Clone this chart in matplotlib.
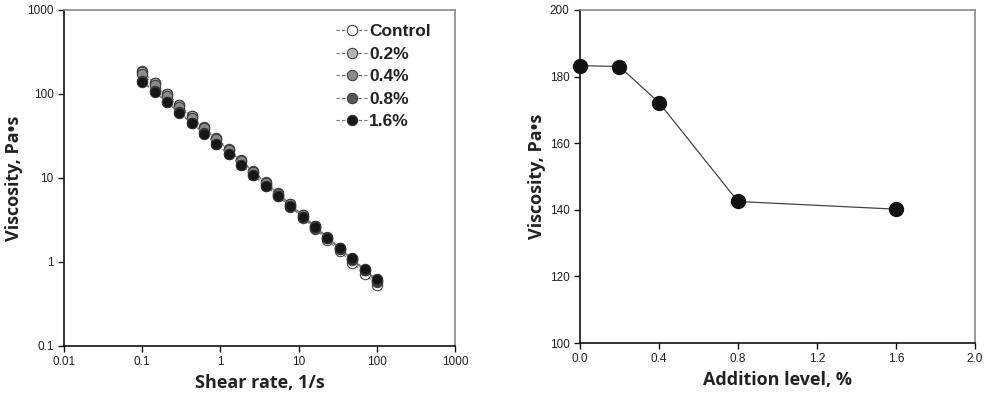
import matplotlib
matplotlib.use("Agg")
import matplotlib.pyplot as plt
from matplotlib.ticker import FixedLocator, FixedFormatter

SHEAR_RATE = [0.1, 0.1438, 0.2069, 0.2976, 0.4281, 0.6158, 0.8859, 1.274, 1.833, 2.637,
              3.793, 5.456, 7.848, 11.29, 16.24, 23.36, 33.60, 48.33, 69.52, 100]

SERIES = ["Control", "0.2%", "0.4%", "0.8%", "1.6%"]
VISC = {
    "Control": [185, 136, 99.8, 73.4, 54.0, 39.6, 29.1, 21.4, 15.7, 11.6,
                8.49, 6.24, 4.58, 3.37, 2.48, 1.82, 1.34, 0.98, 0.72, 0.53],
    "0.2%": [183, 135, 99.8, 73.8, 54.5, 40.3, 29.7, 22.0, 16.2, 12.0,
             8.85, 6.55, 4.83, 3.57, 2.64, 1.95, 1.44, 1.06, 0.79, 0.58],
    "0.4%": [172, 128, 94.8, 70.5, 52.2, 38.8, 28.8, 21.4, 15.9, 11.8,
             8.75, 6.50, 4.83, 3.58, 2.66, 1.98, 1.47, 1.09, 0.81, 0.60],
    "0.8%": [142.5, 107, 80.3, 60.3, 45.2, 34.0, 25.5, 19.1, 14.4, 10.8,
             8.07, 6.07, 4.55, 3.41, 2.56, 1.92, 1.44, 1.08, 0.81, 0.61],
    "1.6%": [140, 105, 79.1, 59.4, 44.8, 33.6, 25.3, 19.0, 14.3, 10.7,
             8.07, 6.08, 4.57, 3.44, 2.58, 1.94, 1.46, 1.10, 0.82, 0.62],
}
FACE = {"Control": "white", "0.2%": "#b4b4b4", "0.4%": "#8a8a8a",
        "0.8%": "#555555", "1.6%": "#161616"}

ADDITION = [0.0, 0.2, 0.4, 0.8, 1.6]
VISC_AT_01 = [183.3, 183.0, 172.2, 142.5, 140.2]

LOG_TICKS = [0.01, 0.1, 1, 10, 100, 1000]
LOG_LABELS = ["0.01", "0.1", "1", "10", "100", "1000"]
LOGY_TICKS = [0.1, 1, 10, 100, 1000]
LOGY_LABELS = ["0.1", "1", "10", "100", "1000"]

TICK_FONT = {"family": "Liberation Sans", "size": 8.5, "color": "#222222"}
LABEL_FONT = {"family": ["Open Sans", "DejaVu Sans"], "size": 13, "weight": "bold",
              "color": "#222222"}


def style_axes(ax):
    for side in ("left", "bottom"):
        ax.spines[side].set_color("#111111")
        ax.spines[side].set_linewidth(1.2)
    for side in ("top", "right"):
        ax.spines[side].set_color("#888888")
        ax.spines[side].set_linewidth(1.2)
    ax.tick_params(which="major", direction="out", length=4, width=1, color="#111111",
                   top=False, right=False)
    ax.tick_params(which="minor", length=0)
    for lbl in ax.get_xticklabels() + ax.get_yticklabels():
        lbl.set_fontfamily(TICK_FONT["family"])
        lbl.set_fontsize(TICK_FONT["size"])
        lbl.set_color(TICK_FONT["color"])


fig = plt.figure(figsize=(9.96, 3.98), dpi=100)
ax1 = fig.add_axes([0.0643, 0.131, 0.3926, 0.844])
ax2 = fig.add_axes([0.5823, 0.138, 0.3966, 0.837])

# left: flow curves
for name in SERIES:
    ax1.plot(SHEAR_RATE, VISC[name], linestyle=(0, (3, 2)), color="#777777", linewidth=0.8,
             marker="o", markersize=7.5, markerfacecolor=FACE[name],
             markeredgecolor="#333333", markeredgewidth=0.7, label=name)
ax1.set_xscale("log")
ax1.set_yscale("log")
ax1.set_xlim(0.01, 1000)
ax1.set_ylim(0.1, 1000)
ax1.xaxis.set_major_locator(FixedLocator(LOG_TICKS))
ax1.xaxis.set_major_formatter(FixedFormatter(LOG_LABELS))
ax1.yaxis.set_major_locator(FixedLocator(LOGY_TICKS))
ax1.yaxis.set_major_formatter(FixedFormatter(LOGY_LABELS))
ax1.xaxis.set_minor_locator(FixedLocator([]))
ax1.yaxis.set_minor_locator(FixedLocator([]))
ax1.set_xlabel("Shear rate, 1/s", fontdict=LABEL_FONT, labelpad=4)
ax1.set_ylabel("Viscosity, Pa•s", fontdict=LABEL_FONT, labelpad=3)
style_axes(ax1)
leg = ax1.legend(loc="upper right", bbox_to_anchor=(0.955, 0.978), frameon=False,
                 handlelength=1.8, handletextpad=0.1, labelspacing=0.42, borderaxespad=0,
                 prop={"family": "Liberation Sans", "weight": "bold", "size": 12.5})
for t in leg.get_texts():
    t.set_color("#222222")

# right: viscosity at 0.1 1/s vs addition level
ax2.plot(ADDITION, VISC_AT_01, color="#444444", linewidth=0.9, marker="o", markersize=10,
         markerfacecolor="#111111", markeredgecolor="#111111", clip_on=False, zorder=3)
ax2.set_xlim(0, 2.0)
ax2.set_ylim(100, 200)
ax2.set_xticks([0.0, 0.4, 0.8, 1.2, 1.6, 2.0])
ax2.set_xticklabels(["0.0", "0.4", "0.8", "1.2", "1.6", "2.0"])
ax2.set_yticks([100, 120, 140, 160, 180, 200])
ax2.set_xlabel("Addition level, %", fontdict=LABEL_FONT, labelpad=4)
ax2.set_ylabel("Viscosity, Pa•s", fontdict=LABEL_FONT, labelpad=3)
style_axes(ax2)

fig.savefig("out.png", dpi=100)
